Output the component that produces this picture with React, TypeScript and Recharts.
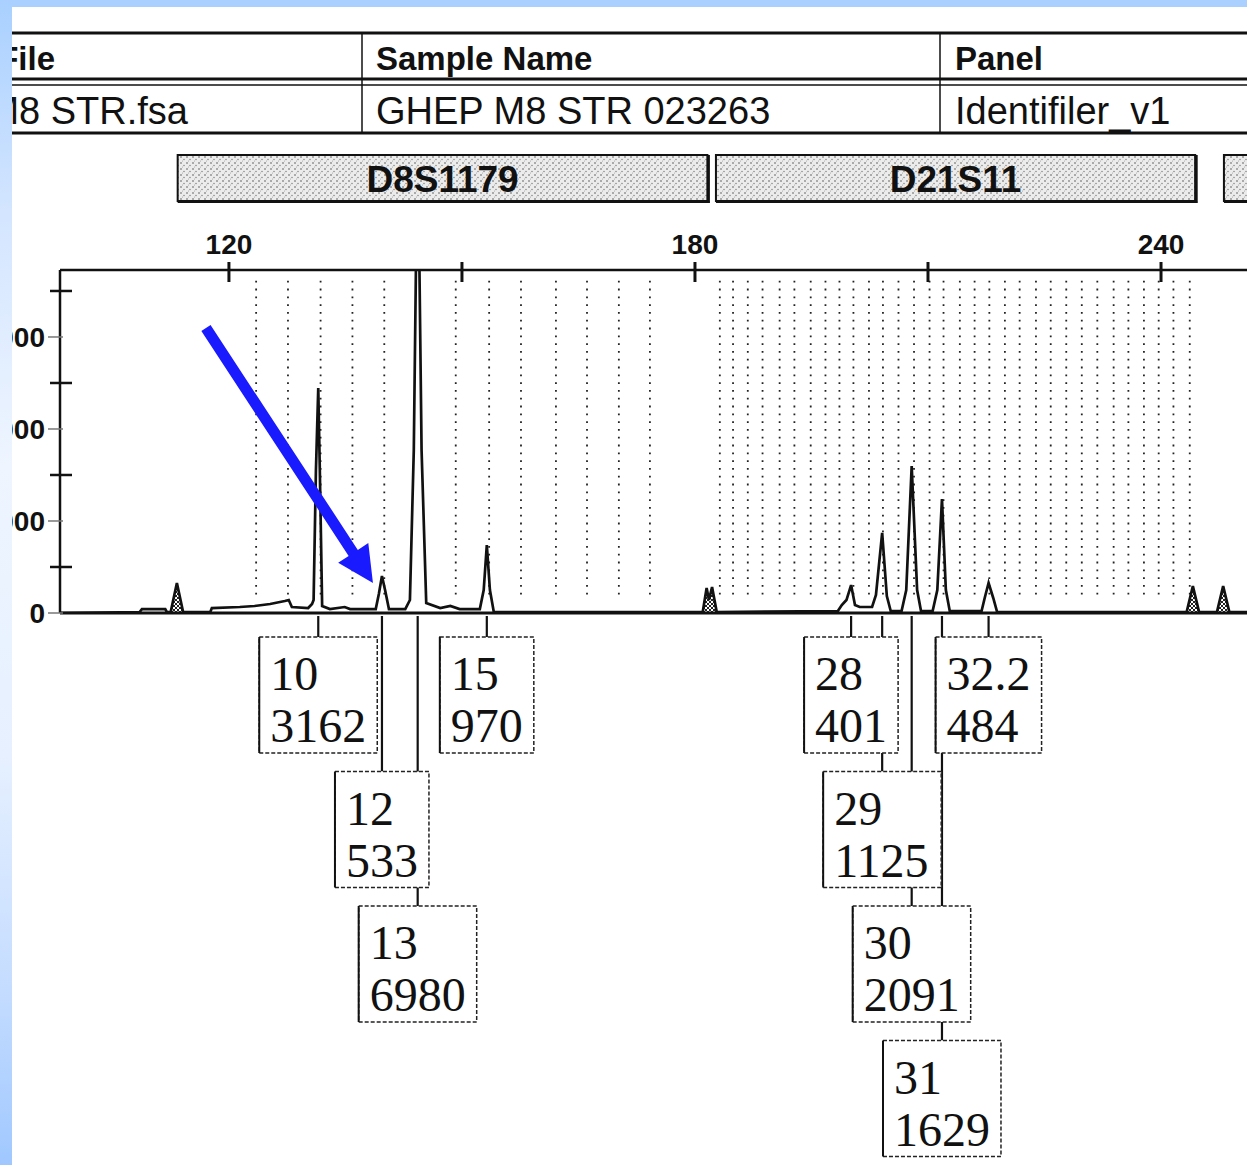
import {
  ComposedChart, Line, Area, XAxis, YAxis,
  ReferenceLine, ReferenceDot, ReferenceArea,
} from 'recharts';

const SANS = '"Liberation Sans", Arial, sans-serif';
const SERIF = '"Liberation Serif", "Times New Roman", serif';
const INK = '#111';

// raw blue-dye signal: [size (bp), height (rfu)]
const trace: [number, number][] = [
  [98.3, 0], [108.5, 11], [108.8, 43], [111.8, 43], [112.0, 11], [112.5, 11], [113.3, 326], [114.1, 11],
  [117.6, 11], [117.8, 54], [121.4, 65], [123.3, 76], [125.3, 98], [127.2, 130], [127.7, 141], [128.1, 65],
  [130.2, 54], [130.7, 98], [130.9, 141], [131.2, 1554], [131.5, 2446], [131.7, 1554], [132.0, 76],
  [133.0, 43], [134.9, 65], [135.6, 43], [138.9, 43], [139.3, 207], [139.7, 402], [140.1, 250], [140.6, 43],
  [142.7, 43], [143.3, 141], [143.8, 1772], [144.3, 5370], [144.8, 1772], [145.4, 109],
  [147.2, 54], [148.5, 76], [149.7, 43], [152.3, 43], [152.8, 250], [153.2, 739], [153.6, 250], [154.1, 11],
  [180.6, 11], [181.0, 11], [181.5, 272], [181.8, 141], [182.2, 283], [182.8, 11],
  [198.4, 22], [198.9, 87], [199.5, 141], [200.1, 304], [200.6, 87], [201.2, 65], [202.8, 65],
  [203.3, 196], [204.1, 870], [204.7, 185], [205.2, 22], [206.6, 22], [207.2, 250], [207.9, 1598],
  [208.6, 250], [209.1, 22], [210.6, 22], [211.2, 250], [211.8, 1239], [212.3, 250], [212.8, 22],
  [216.9, 22], [217.3, 163], [217.8, 326], [218.4, 163], [218.9, 11],
  [243.3, 11], [244.1, 293], [244.9, 11], [247.2, 11], [248.0, 293], [248.8, 11], [251.1, 11],
];

// pull-up artefacts (hatched on the print)
const pullups: [number, number | null][] = [
  [112.5, 0], [113.3, 326], [114.1, 0], [114.2, null],
  [181.0, 0], [181.5, 272], [181.8, 141], [182.2, 283], [182.8, 0], [183.0, null],
  [243.3, 0], [244.1, 293], [244.9, 0], [245.0, null],
  [247.2, 0], [248.0, 293], [248.8, 0],
];

// allelic ladder bins (dotted lines)
const bins = [
  123.5, 127.6, 131.8, 135.9, 140.0, 149.2, 153.5, 157.6, 162.1, 166.1, 170.2, 174.2,
  183.2, 184.9, 186.8, 188.7, 190.9, 192.8, 194.9, 196.8, 198.6, 200.4, 202.4, 204.2,
  206.2, 208.2, 210.2, 212.0, 214.1, 216.0, 217.9, 219.9, 221.8, 223.9, 225.8, 227.8,
  229.8, 231.8, 233.9, 235.8, 237.8, 239.7, 241.6, 243.7,
];

// marker bars; the third one runs off the page, its name is not visible on the print
const markerNames = ['D8S1179', 'D21S11', ''];
const markerFrom = [113.4, 182.7, 248.1];
const markerTo = [181.6, 244.4, 262];

const alleleNames = ['10', '12', '13', '15', '28', '29', '30', '31', '32.2'];
const alleleSizes = [131.5, 139.7, 144.3, 153.2, 200.1, 204.1, 207.9, 211.8, 217.8];
const alleleValues = [3162, 533, 6980, 970, 401, 1125, 2091, 1629, 484];
const alleleRow = [0, 1, 2, 0, 0, 1, 2, 3, 0];

const sizeTicks = [120, 150, 180, 210, 240];
const sizeLabels = ['120', '', '180', '', '240'];
const rfuTicks = [0, 500, 1000, 1500, 2000, 2500, 3000, 3500];

// the peak the blue arrow points at (allele 12)
const arrowSize = 139.7;
const arrowRfu = 402;

const traceData = trace.map(([bp, rfu]) => ({ bp, rfu }));
const pullupData = pullups.map(([bp, rfu]) => ({ bp, rfu }));

const ROW0 = 24;
const ROW_STEP = 134.5;
const BOX_H = 116;
const textW = (s: string) => s.split('').reduce((w, c) => w + (c === '.' ? 12 : 24), 0);

const SizeTick = (p: any) => {
  const { x, y, index } = p;
  return (
    <g>
      <line x1={x} x2={x} y1={y - 8} y2={y + 12} stroke={INK} strokeWidth={3} />
      {sizeLabels[index] && (
        <text x={x} y={y - 16} textAnchor="middle" fontFamily={SANS} fontWeight="bold" fontSize={28} fill={INK}>
          {sizeLabels[index]}
        </text>
      )}
    </g>
  );
};

const RfuTick = (p: any) => {
  const { x, y, payload } = p;
  const major = payload.value % 1000 === 0;
  return (
    <g>
      {major
        ? <line x1={x - 12} x2={x + 3} y1={y} y2={y} stroke="#777" strokeWidth={1.5} />
        : <line x1={x - 10} x2={x + 12} y1={y} y2={y} stroke={INK} strokeWidth={2.5} />}
      {major && (
        <text x={x - 15} y={y} dy="0.36em" textAnchor="end" fontFamily={SANS} fontWeight="bold" fontSize={28} fill={INK}>
          {payload.value}
        </text>
      )}
    </g>
  );
};

const markerShape = (i: number) => (p: any) => {
  const { x, y, width } = p;
  const top = y - 115;
  return (
    <g>
      <rect x={x} y={top} width={width} height={46} fill="url(#stipple)" stroke={INK} strokeWidth={2} />
      <line x1={x + width + 1} x2={x + width + 1} y1={top} y2={top + 48} stroke={INK} strokeWidth={3} />
      <line x1={x} x2={x + width + 2} y1={top + 47} y2={top + 47} stroke={INK} strokeWidth={2} />
      {markerNames[i] && (
        <text x={x + width / 2} y={top + 37} textAnchor="middle" fontFamily={SANS} fontWeight="bold" fontSize={37} fill={INK}>
          {markerNames[i]}
        </text>
      )}
    </g>
  );
};

const connectorShape = (i: number) => (p: any) => {
  const { cx, cy } = p;
  const top = cy + ROW0 + alleleRow[i] * ROW_STEP;
  return <line x1={cx} x2={cx} y1={cy + 3} y2={top} stroke={INK} strokeWidth={2.2} />;
};

const labelShape = (i: number) => (p: any) => {
  const { cx, cy } = p;
  const value = String(alleleValues[i]);
  const w = Math.max(textW(alleleNames[i]), textW(value)) + 22;
  const top = cy + ROW0 + alleleRow[i] * ROW_STEP;
  const left = cx - w / 2;
  return (
    <g>
      <rect x={left} y={top} width={w} height={BOX_H} fill="#fff" stroke="#222" strokeWidth={1.5} strokeDasharray="4 2" />
      <line x1={left} x2={left} y1={top} y2={top + BOX_H} stroke={INK} strokeWidth={2} />
      <text x={left + 11} y={top + 53} fontFamily={SERIF} fontSize={48} fill={INK}>{alleleNames[i]}</text>
      <text x={left + 11} y={top + 105} fontFamily={SERIF} fontSize={48} fill={INK}>{value}</text>
    </g>
  );
};

const arrowShape = (p: any) => {
  const { cx, cy } = p;
  const tip = [cx - 9, cy + 7];
  const tail = [cx - 176, cy - 248];
  const dx = tip[0] - tail[0];
  const dy = tip[1] - tail[1];
  const len = Math.hypot(dx, dy);
  const u = [dx / len, dy / len];
  const n = [-u[1], u[0]];
  const base = [tip[0] - u[0] * 36, tip[1] - u[1] * 36];
  const pt = (o: number[], k: number) => `${o[0] + n[0] * k},${o[1] + n[1] * k}`;
  const points = [
    pt(tail, 5.5), pt(base, 5.5), pt(base, 18), `${tip[0]},${tip[1]}`,
    pt(base, -18), pt(base, -5.5), pt(tail, -5.5),
  ].join(' ');
  return <polygon points={points} fill="#1a1aff" />;
};

function Header() {
  return (
    <svg width={1247} height={140} style={{ position: 'absolute', left: 0, top: 0 }}>
      <line x1={0} x2={1247} y1={33} y2={33} stroke={INK} strokeWidth={3} />
      <line x1={0} x2={1247} y1={79} y2={79} stroke={INK} strokeWidth={3} />
      <line x1={0} x2={1247} y1={85} y2={85} stroke={INK} strokeWidth={1.5} />
      <line x1={0} x2={1247} y1={133} y2={133} stroke={INK} strokeWidth={3} />
      <line x1={362} x2={362} y1={33} y2={133} stroke={INK} strokeWidth={1.5} />
      <line x1={940} x2={940} y1={33} y2={133} stroke={INK} strokeWidth={1.5} />
      <g fontFamily={SANS} fill={INK}>
        <text x={55} y={70} textAnchor="end" fontWeight="bold" fontSize={33}>Sample File</text>
        <text x={376} y={70} fontWeight="bold" fontSize={33}>Sample Name</text>
        <text x={955} y={70} fontWeight="bold" fontSize={33}>Panel</text>
        <text x={188} y={124} textAnchor="end" fontSize={38}>GHEP M8 STR.fsa</text>
        <text x={376} y={124} fontSize={38}>GHEP M8 STR 023263</text>
        <text x={955} y={124} fontSize={38}>Identifiler_v1</text>
      </g>
    </svg>
  );
}

export default function App() {
  return (
    <div style={{ position: 'fixed', left: 0, top: 0, width: 1247, height: 1165, overflow: 'hidden', background: '#fff' }}>
      <svg width={0} height={0} style={{ position: 'absolute' }}>
        <defs>
          <pattern id="stipple" width={6} height={6} patternUnits="userSpaceOnUse">
            <rect width={6} height={6} fill="#ececec" />
            <circle cx={1} cy={1} r={0.8} fill="#555" />
            <circle cx={4} cy={3.5} r={0.7} fill="#777" />
            <circle cx={2.5} cy={5} r={0.5} fill="#999" />
          </pattern>
          <pattern id="hatch" width={4} height={4} patternUnits="userSpaceOnUse">
            <rect width={4} height={4} fill="#fff" />
            <path d="M0,4 L4,0 M0,0 L4,4" stroke="#222" strokeWidth={1} />
          </pattern>
        </defs>
      </svg>

      <Header />

      <div style={{ position: 'absolute', left: 0, top: 0 }}>
        <ComposedChart width={1247} height={1165} data={traceData} margin={{ top: 230, right: 0, bottom: 552, left: 0 }}>
          <XAxis
            dataKey="bp" type="number" orientation="top" height={40}
            domain={[98.25, 251.07]} allowDataOverflow ticks={sizeTicks} interval={0}
            tickSize={0} tickMargin={0} tickLine={false} tick={SizeTick}
            axisLine={{ stroke: INK, strokeWidth: 2.5 }}
          />
          <YAxis
            type="number" width={60} domain={[0, 3728]} allowDataOverflow
            ticks={rfuTicks} interval={0} tickSize={0} tickMargin={0} tickLine={false} tick={RfuTick}
            axisLine={{ stroke: INK, strokeWidth: 2.5 }}
          />
          {bins.map(b => (
            <ReferenceLine key={b} segment={[{ x: b, y: 200 }, { x: b, y: 3650 }]}
              stroke="#222" strokeWidth={1.8} strokeDasharray="1.8 6" />
          ))}
          {markerNames.map((m, i) => (
            <ReferenceArea key={`m${i}`} x1={markerFrom[i]} x2={markerTo[i]} ifOverflow="visible" shape={markerShape(i)} />
          ))}
          <ReferenceLine y={0} stroke={INK} strokeWidth={3} />
          <Area data={pullupData} dataKey="rfu" type="linear" fill="url(#hatch)" fillOpacity={1}
            stroke="none" isAnimationActive={false} />
          <Line dataKey="rfu" type="linear" stroke={INK} strokeWidth={2.7} dot={false} isAnimationActive={false} />
          {alleleNames.map((a, i) => (
            <ReferenceDot key={`c${a}`} x={alleleSizes[i]} y={0} ifOverflow="visible" shape={connectorShape(i)} />
          ))}
          {alleleNames.map((a, i) => (
            <ReferenceDot key={`l${a}`} x={alleleSizes[i]} y={0} ifOverflow="visible" shape={labelShape(i)} />
          ))}
          <ReferenceDot x={arrowSize} y={arrowRfu} ifOverflow="visible" shape={arrowShape} />
        </ComposedChart>
      </div>

      <div style={{ position: 'absolute', left: 0, top: 0, width: 1247, height: 7, background: '#a9d0ff' }} />
      <div style={{
        position: 'absolute', left: 0, top: 0, width: 12, height: 1165,
        background: 'linear-gradient(to bottom, #a9d0ff 0%, #d3e5ff 18%, #eef5ff 40%, #e6f0ff 65%, #c4dcff 85%, #a0c8ff 100%)',
      }} />
    </div>
  );
}
